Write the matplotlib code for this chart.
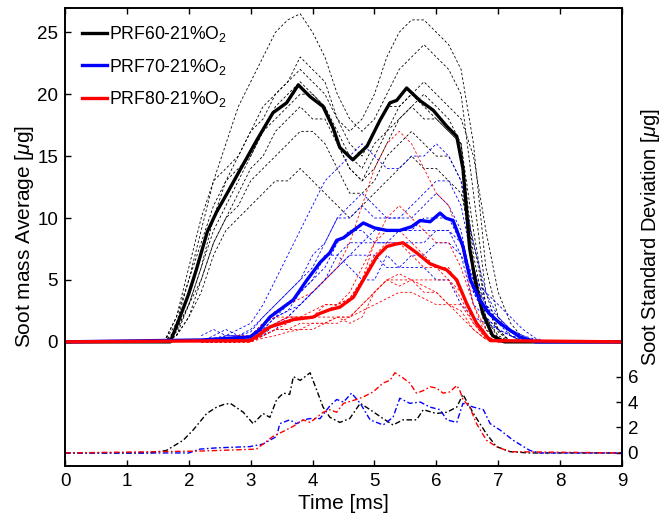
import matplotlib
matplotlib.use("Agg")
import matplotlib.pyplot as plt

plt.rcParams['font.family'] = ['Liberation Sans', 'DejaVu Sans']
plt.rcParams['mathtext.fontset'] = 'custom'
plt.rcParams['mathtext.rm'] = 'Liberation Sans'
plt.rcParams['mathtext.it'] = 'Liberation Sans:italic'
plt.rcParams['font.size'] = 13

labels = ['PRF60-21%O$_2$', 'PRF70-21%O$_2$', 'PRF80-21%O$_2$']

# ---- mean soot mass [ug] ----
t_mean60 = [0, 1.70, 1.85, 2.00, 2.12, 2.30, 2.45, 2.62, 2.83, 3.10, 3.36, 3.58, 3.77,
            3.96, 4.17, 4.33, 4.44, 4.65, 4.88, 5.09, 5.25, 5.36, 5.52, 5.73, 5.95,
            6.17, 6.33, 6.43, 6.54, 6.65, 6.75, 6.91, 7.10, 9]
m_mean60 = [0, 0, 1.9, 3.9, 5.8, 8.9, 10.5, 12.0, 13.9, 16.3, 18.5, 19.3, 20.75,
            19.8, 19.0, 17.3, 15.7, 14.7, 15.8, 17.9, 19.3, 19.5, 20.5, 19.5, 18.7,
            17.4, 16.6, 14.0, 7.5, 4.4, 2.3, 0.5, 0, 0]

t_mean70 = [0, 2.2, 2.99, 3.15, 3.31, 3.5, 3.69, 3.91, 4.12, 4.28, 4.39, 4.5, 4.66,
            4.82, 5.0, 5.2, 5.41, 5.6, 5.74, 5.9, 6.06, 6.15, 6.27, 6.43, 6.55, 6.70,
            6.85, 7.03, 7.2, 7.35, 7.6, 9]
m_mean70 = [0, 0.15, 0.4, 1.0, 2.0, 2.7, 3.4, 5.0, 6.4, 7.2, 8.2, 8.4, 9.0,
            9.6, 9.2, 9.0, 9.0, 9.3, 9.8, 9.7, 10.4, 10.0, 9.8, 7.7, 5.0, 3.4,
            2.3, 1.5, 0.9, 0.4, 0, 0]

t_mean80 = [0, 2.99, 3.15, 3.31, 3.5, 3.69, 4.01, 4.12, 4.28, 4.44, 4.66, 4.82, 5.04,
            5.20, 5.35, 5.46, 5.68, 5.90, 6.17, 6.33, 6.49, 6.65, 6.87, 9]
m_mean80 = [0, 0.1, 0.6, 1.2, 1.5, 1.8, 2.0, 2.3, 2.6, 2.8, 3.6, 5.0, 6.9,
            7.7, 7.9, 8.0, 7.2, 6.3, 5.8, 5.0, 3.1, 1.5, 0.1, 0]

# ---- individual injections [ug] ----
t_run60 = [1.6 + 0.2 * i for i in range(31)]
runs60 = [
    [0, 1.5, 5, 9, 13, 16, 19, 21, 23, 25, 26, 26.5, 25, 23, 20, 18, 17, 18, 20, 22, 23, 24, 23, 22, 20, 12, 4, 1, 0, 0, 0],
    [0, 0.5, 3, 6, 10, 13, 15, 17, 18, 20, 21, 22, 21, 20, 18, 17, 18, 20, 23, 25, 26, 26, 25, 24, 22, 16, 6, 2, 0.5, 0, 0],
    [0, 0.5, 2, 4, 7, 9, 10, 11, 12, 13, 13, 14, 13, 12, 11, 10, 11, 12, 13, 14, 15, 14, 14, 13, 12, 8, 3, 1, 0, 0, 0],
    [0, 2, 6, 10, 13, 14, 15, 17, 19, 20, 21, 23, 22, 21, 18, 16, 15, 17, 19, 19, 20, 19, 18, 17, 16, 9, 3, 0.8, 0, 0, 0],
    [0, 1, 3, 6, 9, 11, 13, 15, 17, 18, 19, 20, 20, 19, 17, 15, 14, 16, 17, 18, 19, 18, 18, 17, 16, 6, 2, 0.5, 0, 0, 0],
    [0, 0.5, 2, 5, 8, 10, 12, 14, 15, 17, 18, 19, 18, 18, 16, 14, 13, 15, 17, 19, 20, 21, 20, 19, 18, 15, 9, 4, 1.5, 0.3, 0],
    [0, 2, 5, 8, 11, 13, 14, 15, 17, 19, 20, 21, 20, 19, 16, 14, 13, 14, 16, 18, 19, 20, 19, 18, 16, 7, 2, 0.3, 0, 0, 0],
    [0, 0.8, 3, 5, 8, 10, 11, 13, 14, 15, 16, 17, 17, 16, 14, 12, 12, 13, 15, 16, 17, 16, 15, 15, 13, 5, 1, 0, 0, 0, 0],
]

t_run70 = [2.2 + 0.2 * i for i in range(29)]
runs70 = [
    [0, 0, 0.5, 1, 1.5, 3, 5, 7, 9, 11, 13, 14, 15, 16, 15, 14, 14, 15, 15, 16, 15, 13, 8, 4, 2, 1, 0.5, 0, 0],
    [0, 0.5, 1, 0.5, 1, 2, 3, 4, 5, 7, 8, 10, 11, 12, 11, 10, 10, 11, 12, 13, 13, 11, 6, 3, 1.5, 0.5, 0, 0, 0],
    [0.5, 1, 0.5, 0.5, 0.3, 1, 2, 2.5, 3, 4, 5, 6, 7, 7, 7, 6, 6, 7, 7, 8, 8, 7, 5, 4, 3, 2, 1, 0.3, 0],
    [0, 0, 0, 0.3, 0.5, 1, 2, 3, 4, 5, 6, 8, 9, 9, 8, 8, 9, 9, 10, 10, 10, 8, 5, 3, 2, 1, 0.5, 0.2, 0],
    [0, 0, 0, 0, 0.2, 0.5, 1, 2, 3, 4, 5, 6, 7, 8, 8, 8, 8, 8, 8, 9, 9, 8, 4, 2, 1, 0.5, 0.2, 0, 0],
    [0, 0.3, 0.5, 0.5, 0.8, 2, 3, 4, 5, 6, 8, 10, 10, 11, 10, 10, 10, 10, 11, 12, 11, 9, 4, 2.5, 1.5, 0.8, 0.3, 0, 0],
    [0, 0, 0.2, 0.3, 0.2, 0.5, 1.5, 2, 3, 4, 5, 7, 8, 8, 9, 9, 9, 9, 9, 9, 9, 7, 3, 2, 1, 0.5, 0.2, 0, 0],
    [0, 0, 0, 0.2, 0.5, 1.5, 2, 2.5, 4, 5, 7, 7, 6, 5, 5, 7, 6, 6, 6, 5, 5, 3, 2, 1.5, 1, 0.5, 0, 0, 0],
]

t_run80 = [2.2 + 0.2 * i for i in range(27)]
runs80 = [
    [0, 0, 0.2, 0.5, 0.5, 1.5, 2.5, 3, 3.5, 4, 5, 6, 8, 11, 14, 16, 17, 16, 14, 12, 11, 8, 3, 0.5, 0, 0, 0],
    [0, 0, 0, 0, 0, 0.5, 1, 1.5, 2, 2, 2.5, 3, 3.5, 5, 8, 10, 11, 10, 9, 8, 8, 6, 3, 1, 0.3, 0, 0],
    [0, 0, 0, 0, 0, 0.5, 1, 1, 1, 1.5, 1.5, 2, 2, 3, 4, 5, 5, 5, 4, 4, 3, 3, 1.5, 0.3, 0, 0, 0],
    [0, 0, 0, 0, 0, 1, 1.5, 2, 2, 2, 3, 3, 4, 6, 8, 9, 9, 8, 7, 6, 6, 4, 2, 0.5, 0, 0, 0],
    [0, 0, 0, 0, 0, 0.5, 1, 1, 1.5, 1.5, 1.5, 2, 2, 2.5, 3, 3.5, 4, 4, 3.5, 3, 3, 2.5, 1, 0.2, 0, 0, 0],
    [0, 0, 0, 0, 0.3, 1, 1.5, 2, 2, 2.5, 3, 3, 3.5, 5, 7, 8, 8, 7, 6, 6, 5, 4, 2, 0.5, 0, 0, 0],
    [0, 0, 0, 0, 0, 0.3, 0.5, 0.8, 1, 1, 1.5, 1.5, 2, 3, 4, 5, 5.5, 5, 4.5, 4, 3, 2, 1, 0.2, 0, 0, 0],
    [0, 0, 0, 0, 0, 1.5, 2, 2, 2, 2, 2, 2, 1.5, 2, 4, 5, 4.5, 5, 5, 5, 5, 3.5, 1.5, 0.3, 0, 0, 0],
]

# ---- standard deviation [ug] ----
t_std60 = [0, 1.37, 1.64, 1.91, 2.07, 2.29, 2.45, 2.56, 2.67, 2.88, 3.04, 3.20, 3.31,
           3.42, 3.53, 3.63, 3.69, 3.80, 3.96, 4.07, 4.17, 4.28, 4.44, 4.60, 4.77,
           4.93, 5.14, 5.30, 5.46, 5.68, 5.79, 6.00, 6.17, 6.33, 6.43, 6.60, 6.81,
           6.97, 7.19, 7.5, 9]
s_std60 = [0, 0, 0.2, 1.0, 1.8, 3.1, 3.6, 3.8, 3.9, 3.2, 2.3, 3.1, 2.8,
           4.2, 4.7, 4.6, 6.0, 5.7, 6.3, 4.9, 3.6, 2.8, 2.4, 2.7, 3.9,
           3.4, 2.7, 2.2, 2.6, 2.6, 3.4, 3.1, 3.2, 3.6, 4.6, 3.1, 1.5,
           0.5, 0.1, 0, 0]

t_std70 = [0, 2.0, 2.18, 2.45, 2.99, 3.20, 3.42, 3.47, 3.63, 3.74, 3.85, 3.96, 4.12,
           4.28, 4.39, 4.50, 4.63, 4.77, 4.93, 5.14, 5.30, 5.41, 5.57, 5.74, 5.90,
           6.06, 6.17, 6.33, 6.43, 6.60, 6.76, 6.87, 7.03, 7.24, 7.51, 7.67, 9]
s_std70 = [0, 0, 0.3, 0.4, 0.5, 0.7, 1.3, 2.3, 2.6, 2.3, 2.6, 2.7, 2.7,
           3.7, 4.2, 4.0, 4.7, 3.9, 2.6, 2.2, 2.8, 4.3, 3.9, 4.0, 3.6,
           3.4, 2.6, 2.4, 3.9, 3.6, 3.4, 2.3, 1.8, 1.0, 0.2, 0, 0]

t_std80 = [0, 2.2, 3.09, 3.20, 3.36, 3.53, 3.69, 3.85, 3.96, 4.07, 4.17, 4.28, 4.39,
           4.50, 4.71, 4.82, 4.98, 5.14, 5.25, 5.33, 5.46, 5.57, 5.68, 5.79, 5.90,
           6.00, 6.11, 6.22, 6.33, 6.38, 6.43, 6.54, 6.65, 6.81, 6.97, 7.19, 9]
s_std80 = [0, 0.15, 0.3, 0.7, 1.3, 1.7, 2.1, 2.6, 2.4, 2.8, 3.2, 3.4, 3.2,
           3.9, 4.2, 4.4, 4.8, 5.5, 5.7, 6.3, 5.9, 5.5, 4.7, 4.9, 5.2,
           5.1, 4.7, 4.8, 5.3, 4.9, 4.2, 3.6, 2.3, 1.0, 0.5, 0.1, 0]

colors = ['#000000', '#0000ff', '#ff0000']

fig = plt.figure(figsize=(6.67, 5.29), dpi=100)
ax = fig.add_axes([0.0975, 0.1197, 0.835, 0.8661])

# individual injections, thin dashed
for runs, tt, c in [(runs60, t_run60, colors[0]), (runs70, t_run70, colors[1]), (runs80, t_run80, colors[2])]:
    for r in runs:
        ax.plot(tt, r, color=c, lw=0.6, dashes=(3, 2.5), zorder=1)

# ensemble averages, thick solid
for tt, mm, c, lab in [(t_mean60, m_mean60, colors[0], labels[0]),
                       (t_mean70, m_mean70, colors[1], labels[1]),
                       (t_mean80, m_mean80, colors[2], labels[2])]:
    ax.plot(tt, mm, color=c, lw=2.4, label=lab, zorder=3, solid_joinstyle='round')

ax.set_xlim(0, 9)
ax.set_ylim(-10, 27)
ax.set_xticks(range(0, 10))
ax.set_yticks([0, 5, 10, 15, 20, 25])
ax.set_xlabel('Time [ms]', fontsize=15, labelpad=3)
ax.set_ylabel('Soot mass Average [$\\mu$g]', fontsize=15, labelpad=1)
ax.tick_params(direction='in', length=4, width=1, top=True, labelsize=13.5, pad=5)

leg = ax.legend(loc='upper left', frameon=False, handlelength=1.45, handletextpad=0.12,
                labelspacing=0.7, borderaxespad=0.55, fontsize=12.7)

ax2 = ax.twinx()
for tt, ss, c in [(t_std60, s_std60, colors[0]), (t_std70, s_std70, colors[1]), (t_std80, s_std80, colors[2])]:
    ax2.plot(tt, ss, color=c, lw=1.0, dashes=(4, 1.8, 1.2, 1.8))
ax2.set_ylim(-1, 35)
ax2.set_yticks([0, 2, 4, 6])
ax2.set_ylabel('Soot Standard Deviation [$\\mu$g]', fontsize=14.5, labelpad=1)
ax2.tick_params(direction='in', length=4, width=1, labelsize=13.5, pad=4)

for a in (ax, ax2):
    for s in a.spines.values():
        s.set_linewidth(1.2)

fig.savefig('out.png', dpi=100)
